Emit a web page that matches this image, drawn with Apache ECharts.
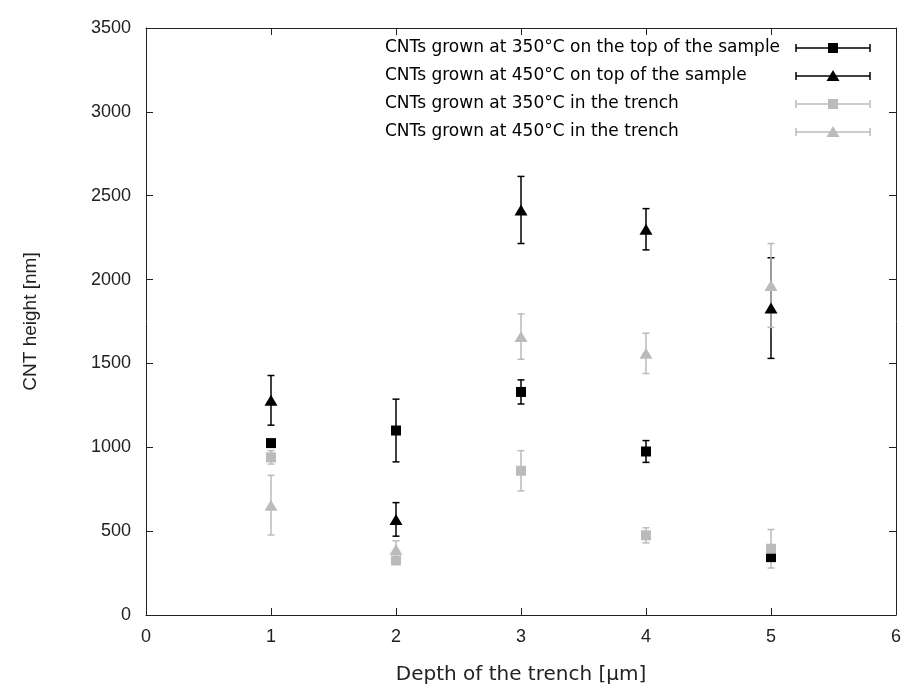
<!DOCTYPE html>
<html>
<head>
<meta charset="utf-8">
<script src="https://cdn.jsdelivr.net/npm/echarts@6/dist/echarts.min.js"></script>
<style>html,body{margin:0;padding:0;background:#fff;}#chart{width:904px;height:691px;}</style>
</head>
<body>
<div id="chart"></div>
<script>
// ---- data ----
const depths = [1, 2, 3, 4, 5];
const seriesNames = [
  'CNTs grown at 350°C on the top of the sample',
  'CNTs grown at 450°C on top of the sample',
  'CNTs grown at 350°C in the trench',
  'CNTs grown at 450°C in the trench'
];
const top350 = [1025, 1100, 1330, 975, 345];
const top350Err = [18, 187, 72, 65, 15];
const top450 = [1280, 570, 2415, 2300, 1830];
const top450Err = [148, 100, 200, 123, 300];
const trench350 = [940, 325, 860, 475, 395];
const trench350Err = [40, 20, 120, 45, 115];
const trench450 = [655, 390, 1660, 1560, 1965];
const trench450Err = [178, 52, 135, 120, 250];
const xTicks = [0, 1, 2, 3, 4, 5, 6];
const yTicks = [0, 500, 1000, 1500, 2000, 2500, 3000, 3500];

const BLACK = '#000000';
const GRAY = '#bbbbbb';
const colors = [BLACK, BLACK, GRAY, GRAY];
const symbols = ['rect', 'triangle', 'rect', 'triangle'];
const symSizes = [[10, 10], [13, 11], [10, 10], [13, 11]];
const values = [top350, top450, trench350, trench450];
const errs = [top350Err, top450Err, trench350Err, trench450Err];

const series = [];
values.forEach((vals, i) => {
  series.push({
    type: 'custom',
    name: seriesNames[i] + ' err',
    silent: true,
    data: depths.map((d, k) => [d, vals[k] - errs[i][k], vals[k] + errs[i][k]]),
    encode: { x: 0, y: [1, 2] },
    renderItem: function (params, api) {
      const lo = api.coord([api.value(0), api.value(1)]);
      const hi = api.coord([api.value(0), api.value(2)]);
      const cw = 3.5;
      const st = { stroke: colors[i], lineWidth: 1.5 };
      return {
        type: 'group',
        children: [
          { type: 'line', shape: { x1: lo[0], y1: lo[1], x2: hi[0], y2: hi[1] }, style: st },
          { type: 'line', shape: { x1: lo[0] - cw, y1: lo[1], x2: lo[0] + cw, y2: lo[1] }, style: st },
          { type: 'line', shape: { x1: hi[0] - cw, y1: hi[1], x2: hi[0] + cw, y2: hi[1] }, style: st }
        ]
      };
    }
  });
  series.push({
    type: 'scatter',
    name: seriesNames[i],
    silent: true,
    symbol: symbols[i],
    symbolSize: symSizes[i],
    itemStyle: { color: colors[i], opacity: 1 },
    data: depths.map((d, k) => [d, vals[k]])
  });
});

// ---- legend (drawn as graphic: text left, error-bar sample right) ----
const legendEls = [];
const legTextX = 385, legY0 = 48, legStep = 28, legLineX1 = 796, legLineX2 = 870;
seriesNames.forEach((n, i) => {
  const y = legY0 + i * legStep;
  const c = colors[i];
  const mx = (legLineX1 + legLineX2) / 2;
  legendEls.push({ type: 'text', x: legTextX, y: y, silent: true,
    style: { text: n, font: '17px "DejaVu Sans"', fill: '#000', verticalAlign: 'middle', align: 'left' } });
  legendEls.push({ type: 'line', silent: true, shape: { x1: legLineX1, y1: y, x2: legLineX2, y2: y }, style: { stroke: c, lineWidth: 1.5 } });
  legendEls.push({ type: 'line', silent: true, shape: { x1: legLineX1, y1: y - 4, x2: legLineX1, y2: y + 4 }, style: { stroke: c, lineWidth: 1.5 } });
  legendEls.push({ type: 'line', silent: true, shape: { x1: legLineX2, y1: y - 4, x2: legLineX2, y2: y + 4 }, style: { stroke: c, lineWidth: 1.5 } });
  if (symbols[i] === 'rect') {
    legendEls.push({ type: 'rect', silent: true, shape: { x: mx - 5, y: y - 5, width: 10, height: 10 }, style: { fill: c } });
  } else {
    legendEls.push({ type: 'polygon', silent: true, shape: { points: [[mx, y - 6], [mx + 6.5, y + 5], [mx - 6.5, y + 5]] }, style: { fill: c } });
  }
});

const axisLineStyle = { onZero: false, lineStyle: { color: '#222', width: 1 } };
const tickStyle = { inside: true, length: 7, lineStyle: { color: '#222', width: 1 } };
const labelFont = { fontFamily: '"Liberation Sans Narrow", "Liberation Sans", Arial', fontSize: 18, color: '#222' };

const chart = echarts.init(document.getElementById('chart'), null, { renderer: 'canvas' });
chart.setOption({
  animation: false,
  backgroundColor: '#ffffff',
  grid: { left: 146, right: 5, top: 28, bottom: 76, containLabel: false },
  graphic: legendEls,
  xAxis: [{
    type: 'value', min: xTicks[0], max: xTicks[xTicks.length - 1], interval: 1,
    position: 'bottom',
    name: 'Depth of the trench [µm]', nameLocation: 'middle', nameGap: 50,
    nameTextStyle: { fontFamily: 'DejaVu Sans', fontSize: 20, color: '#222' },
    axisLine: axisLineStyle, axisTick: tickStyle,
    axisLabel: Object.assign({ margin: 13, formatter: v => String(v) }, labelFont),
    splitLine: { show: false }
  }, {
    type: 'value', min: xTicks[0], max: xTicks[xTicks.length - 1], interval: 1,
    position: 'top',
    axisLine: axisLineStyle, axisTick: tickStyle,
    axisLabel: { show: false }, splitLine: { show: false }
  }],
  yAxis: [{
    type: 'value', min: yTicks[0], max: yTicks[yTicks.length - 1], interval: 500,
    position: 'left',
    name: 'CNT height [nm]', nameLocation: 'middle', nameGap: 106, nameRotate: 90,
    nameTextStyle: { fontFamily: '"Liberation Sans", Arial', fontSize: 19, color: '#222' },
    axisLine: axisLineStyle, axisTick: tickStyle,
    axisLabel: Object.assign({ margin: 15, formatter: v => String(v) }, labelFont),
    splitLine: { show: false }
  }, {
    type: 'value', min: yTicks[0], max: yTicks[yTicks.length - 1], interval: 500,
    position: 'right',
    axisLine: axisLineStyle, axisTick: tickStyle,
    axisLabel: { show: false }, splitLine: { show: false }
  }],
  series: series
});
</script>
</body>
</html>
